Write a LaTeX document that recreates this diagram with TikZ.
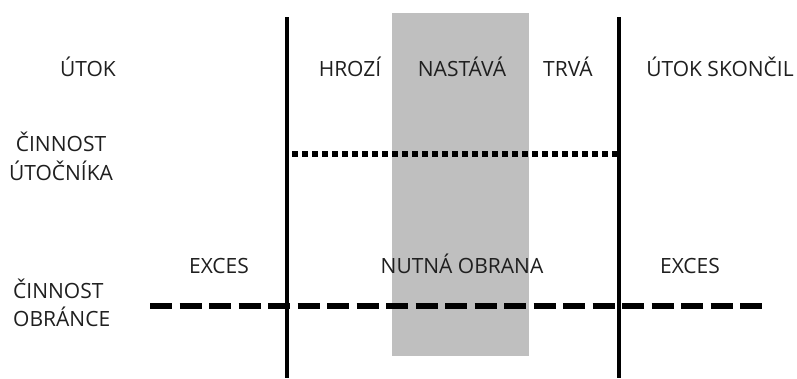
\documentclass[tikz,border=0pt]{standalone}
\usepackage{fontspec}
\setmainfont{Open Sans}
\begin{document}
\begin{tikzpicture}[x=1pt,y=-1pt,
  lbl/.style={anchor=base,inner sep=0pt,text=black!88,font=\fontsize{21}{29}\selectfont},
  vline/.style={line width=4.5pt},
  dotline/.style={line width=5.5pt,dash pattern=on 5.5pt off 4.5pt},
  dashline/.style={line width=5.5pt,dash pattern=on 22pt off 7.5pt}]
\useasboundingbox (0,0) rectangle (797,378);
\fill[black!25] (392,13) rectangle (529,356);
% lines
\coordinate (v1t) at (287,17); \coordinate (v1b) at (287,378);
\coordinate (v2t) at (619,17); \coordinate (v2b) at (619,378);
\coordinate (dots) at (292,154); \coordinate (dote) at (619,154);
\coordinate (dashs) at (150,306); \coordinate (dashe) at (765,306);
\draw[dotline] (dots) -- (dote);
\draw[dashline] (dashs) -- (dashe);
\draw[vline] (v1t) -- (v1b);
\draw[vline] (v2t) -- (v2b);
% labels
\node[lbl] (utok) at (88,76) {ÚTOK};
\node[lbl] (hrozi) at (350,76) {HROZÍ};
\node[lbl] (nastava) at (462,76) {NASTÁVÁ};
\node[lbl] (trva) at (568,76) {TRVÁ};
\node[lbl] (skoncil) at (720,76) {ÚTOK SKONČIL};
\node[lbl] (cu1) at (61,151) {ČINNOST};
\node[lbl] (cu2) at (61,180) {ÚTOČNÍKA};
\node[lbl,anchor=base west] (co1) at (13,298) {ČINNOST};
\node[lbl,anchor=base west] (co2) at (13,326) {OBRÁNCE};
\node[lbl] (exces1) at (219,273) {EXCES};
\node[lbl] (nutna) at (462,273) {NUTNÁ OBRANA};
\node[lbl] (exces2) at (690,273) {EXCES};
\end{tikzpicture}
\end{document}
